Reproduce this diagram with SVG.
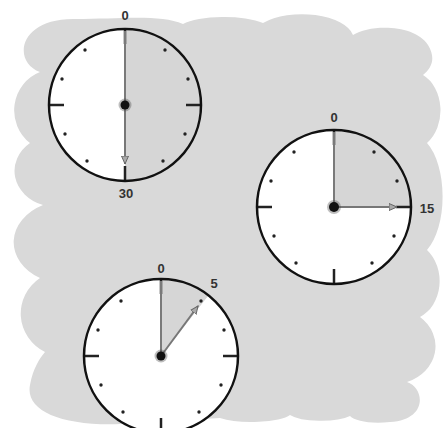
<svg xmlns="http://www.w3.org/2000/svg" width="445" height="428" viewBox="0 0 445 428">
<style>
.rim{fill:none;stroke:#111;stroke-width:2.5}
.tick{stroke:#222;stroke-width:2.5}
.dot{fill:#222}
.ref{stroke:#7a7a7a;stroke-width:2}
.hand{stroke:#777;stroke-width:2;marker-end:url(#arr)}
.hub{fill:#111}
.halo{fill:#444;opacity:0.35}
.lbl{font-family:"Liberation Sans",Arial,sans-serif;font-size:13px;font-weight:bold;fill:#333;text-anchor:middle}
</style>
<defs>
<marker id="arr" markerWidth="10" markerHeight="10" refX="8" refY="4" orient="auto" markerUnits="userSpaceOnUse">
<path d="M0,0.5 L8,4 L0,7.5 Z" fill="#aaa" stroke="#666" stroke-width="1"/>
</marker>
</defs>
<rect width="445" height="428" fill="#fff"/>
<path id="cloud" fill="#d9d9d9" d="M40,72 C12,62 18,18 75,19 C120,19 160,14 183,24 A46 13 0 0 1 263,23 A52 26 0 0 1 353,35 C370,24 415,24 428,45 C436,58 432,68 423,75 A30 39 0 0 1 427,143 A30 61 0 0 1 427,250 A32 39 0 0 1 420,317 A43 38 0 0 1 407,382 C425,388 428,420 390,422 C370,424 355,421 350,416 A34 10 0 0 1 290,415 A40 10 0 0 1 220,418 L120,424 C60,426 25,410 30,385 C33,368 40,358 45,352 A44 43 0 0 1 40,278 A55 42 0 0 1 43,205 A42 36 0 0 1 30,143 A40 41 0 0 1 40,72 Z"/>

<g id="clock-30">
<path id="face-30" fill="#ffffff" d="M125,29 A76,76 0 0,0 125,181 Z"/>
<path id="sector-30" fill="#d6d6d6" d="M125,29 A76,76 0 0,1 125,181 Z"/>
<g class="dot">
<circle cx="85" cy="50" r="1.7"/><circle cx="165" cy="50" r="1.7"/>
<circle cx="62" cy="79" r="1.7"/><circle cx="188" cy="79" r="1.7"/>
<circle cx="65" cy="134" r="1.7"/><circle cx="185" cy="134" r="1.7"/>
<circle cx="87" cy="161" r="1.7"/><circle cx="163" cy="161" r="1.7"/>
</g>
<line class="tick" x1="125" y1="29" x2="125" y2="44"/>
<line class="tick" x1="201" y1="105" x2="186" y2="105"/>
<line class="tick" x1="125" y1="181" x2="125" y2="166"/>
<line class="tick" x1="49" y1="105" x2="64" y2="105"/>
<line class="ref" x1="125" y1="31" x2="125" y2="105"/>
<line class="hand" x1="125" y1="105" x2="125" y2="164"/>
<circle class="halo" cx="125" cy="105" r="6.5"/>
<circle class="hub" cx="125" cy="105" r="4.5"/>
<circle class="rim" cx="125" cy="105" r="76"/>
<text class="lbl" x="125" y="20">0</text>
<text class="lbl" x="126" y="198">30</text>
</g>

<g id="clock-15">
<path id="face-15" fill="#ffffff" d="M334,207 L411,207 A77,77 0 1,1 334,130 Z"/>
<path id="sector-15" fill="#d6d6d6" d="M334,207 L334,130 A77,77 0 0,1 411,207 Z"/>
<g class="dot">
<circle cx="294" cy="152" r="1.7"/><circle cx="374" cy="152" r="1.7"/>
<circle cx="271" cy="181" r="1.7"/><circle cx="397" cy="181" r="1.7"/>
<circle cx="274" cy="236" r="1.7"/><circle cx="394" cy="236" r="1.7"/>
<circle cx="296" cy="263" r="1.7"/><circle cx="372" cy="263" r="1.7"/>
</g>
<line class="tick" x1="334" y1="130" x2="334" y2="145"/>
<line class="tick" x1="411" y1="207" x2="396" y2="207"/>
<line class="tick" x1="334" y1="284" x2="334" y2="269"/>
<line class="tick" x1="257" y1="207" x2="272" y2="207"/>
<line class="ref" x1="334" y1="132" x2="334" y2="207"/>
<line class="hand" x1="334" y1="207" x2="397" y2="207"/>
<circle class="halo" cx="334" cy="207" r="7"/>
<circle class="hub" cx="334" cy="207" r="5"/>
<circle class="rim" cx="334" cy="207" r="77"/>
<text class="lbl" x="334" y="122">0</text>
<text class="lbl" x="427" y="213">15</text>
</g>

<g id="clock-5">
<path id="face-5" fill="#ffffff" d="M161,356 L208.4,295.3 A77,77 0 1,1 161,279 Z"/>
<path id="sector-5" fill="#d6d6d6" d="M161,356 L161,279 A77,77 0 0,1 208.4,295.3 Z"/>
<g class="dot">
<circle cx="121" cy="301" r="1.7"/><circle cx="201" cy="301" r="1.7"/>
<circle cx="98" cy="330" r="1.7"/><circle cx="224" cy="330" r="1.7"/>
<circle cx="101" cy="385" r="1.7"/><circle cx="221" cy="385" r="1.7"/>
<circle cx="123" cy="412" r="1.7"/><circle cx="199" cy="412" r="1.7"/>
</g>
<line class="tick" x1="161" y1="279" x2="161" y2="294"/>
<line class="tick" x1="238" y1="356" x2="223" y2="356"/>
<line class="tick" x1="161" y1="433" x2="161" y2="418"/>
<line class="tick" x1="84" y1="356" x2="99" y2="356"/>
<line class="ref" x1="161" y1="281" x2="161" y2="356"/>
<line class="hand" x1="161" y1="356" x2="198" y2="306"/>
<circle class="halo" cx="161" cy="356" r="6.5"/>
<circle class="hub" cx="161" cy="356" r="4.5"/>
<circle class="rim" cx="161" cy="356" r="77"/>
<text class="lbl" x="161" y="273">0</text>
<text class="lbl" x="214" y="288">5</text>
</g>
</svg>
